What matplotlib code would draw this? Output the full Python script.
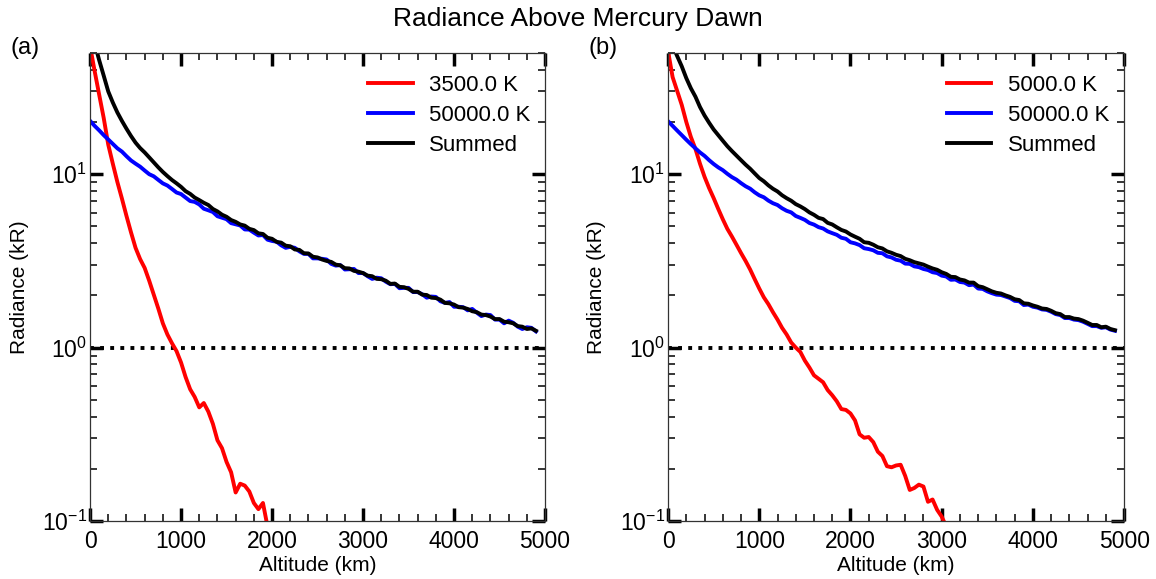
import numpy as np
import matplotlib
matplotlib.use("Agg")
import matplotlib.pyplot as plt
from matplotlib.ticker import LogLocator, MultipleLocator, NullFormatter

plt.rcParams['font.family'] = ['Liberation Sans', 'DejaVu Sans']
plt.rcParams['mathtext.fontset'] = 'custom'
plt.rcParams['mathtext.rm'] = 'Liberation Sans'
plt.rcParams['mathtext.it'] = 'Liberation Sans'
plt.rcParams['mathtext.bf'] = 'Liberation Sans'

# ---------------- data ----------------
title = "Radiance Above Mercury Dawn"
alt_long = np.arange(0, 4901, 50)          # km, blue / summed sampling
alt_red_a = np.arange(0, 1951, 50)
alt_red_b = np.arange(0, 3051, 50)

red_a = [55.0, 39.4, 28.8, 21.1, 14.8, 11.5, 9.02, 7.24, 5.75, 4.62,
         3.76, 3.24, 2.88, 2.43, 2.02, 1.68, 1.38, 1.19, 1.06, 0.955,
         0.82, 0.676, 0.575, 0.519, 0.452, 0.479, 0.427, 0.363, 0.292, 0.263,
         0.219, 0.191, 0.146, 0.164, 0.160, 0.148, 0.127, 0.117, 0.127, 0.093]

blue_a = [20.3, 19.0, 17.9, 16.8, 15.85, 14.95, 14.1, 13.5, 12.7, 12.0,
          11.5, 11.05, 10.5, 10.0, 9.72, 9.27, 8.85, 8.60, 8.22, 7.84,
          7.68, 7.33, 7.00, 6.92, 6.69, 6.32, 6.19, 6.05, 5.72, 5.61,
          5.50, 5.22, 5.14, 5.06, 4.80, 4.79, 4.60, 4.43, 4.46, 4.19,
          4.12, 4.08, 3.89, 3.76, 3.81, 3.76, 3.59, 3.47, 3.47, 3.27,
          3.27, 3.25, 3.22, 3.04, 2.97, 2.99, 2.82, 2.83, 2.84, 2.69,
          2.69, 2.58, 2.49, 2.53, 2.51, 2.40, 2.32, 2.33, 2.20, 2.21,
          2.21, 2.09, 2.09, 2.03, 1.94, 1.97, 1.96, 1.85, 1.81, 1.83,
          1.72, 1.72, 1.71, 1.64, 1.67, 1.59, 1.52, 1.55, 1.54, 1.45,
          1.45, 1.38, 1.43, 1.39, 1.32, 1.28, 1.31, 1.30, 1.24]

sum_a = [75.0, 57.0, 45.5, 37.0, 30.0, 25.9, 22.7, 20.3, 18.3, 16.6,
         15.2, 14.15, 13.35, 12.5, 11.7, 10.95, 10.3, 9.75, 9.26, 8.86,
         8.45, 7.98, 7.70, 7.33, 7.09, 6.84, 6.64, 6.30, 6.10, 5.84,
         5.68, 5.44, 5.31, 5.13, 5.05, 4.84, 4.76, 4.56, 4.52, 4.30,
         4.24, 4.07, 4.03, 3.87, 3.84, 3.68, 3.66, 3.50, 3.49, 3.34,
         3.31, 3.22, 3.16, 3.12, 3.01, 2.98, 2.87, 2.86, 2.77, 2.74,
         2.69, 2.60, 2.58, 2.49, 2.48, 2.43, 2.33, 2.34, 2.24, 2.23,
         2.18, 2.10, 2.10, 2.02, 2.01, 1.94, 1.93, 1.89, 1.81, 1.80,
         1.77, 1.71, 1.70, 1.67, 1.62, 1.60, 1.55, 1.54, 1.51, 1.46,
         1.46, 1.41, 1.40, 1.38, 1.33, 1.32, 1.28, 1.29, 1.25]

red_b = [51.3, 36.3, 30.2, 25.1, 20.0, 16.4, 14.0, 11.5, 9.66, 8.32,
         7.28, 6.31, 5.50, 4.84, 4.37, 3.92, 3.51, 3.16, 2.82, 2.48,
         2.19, 1.95, 1.78, 1.60, 1.45, 1.30, 1.19, 1.07, 1.00, 0.944,
         0.841, 0.767, 0.692, 0.661, 0.631, 0.569, 0.531, 0.490, 0.442, 0.437,
         0.417, 0.380, 0.316, 0.302, 0.305, 0.285, 0.251, 0.237, 0.207, 0.204,
         0.209, 0.211, 0.182, 0.151, 0.155, 0.162, 0.158, 0.129, 0.133, 0.116,
         0.106, 0.093]

blue_b = [20.2, 19.0, 17.85, 16.8, 15.8, 14.9, 14.1, 13.35, 12.75, 12.05,
          11.45, 10.95, 10.55, 10.05, 9.62, 9.30, 8.88, 8.52, 8.25, 7.86,
          7.55, 7.36, 7.04, 6.80, 6.64, 6.36, 6.15, 6.02, 5.74, 5.60,
          5.45, 5.23, 5.12, 4.95, 4.86, 4.68, 4.57, 4.47, 4.30, 4.24,
          4.05, 3.99, 3.90, 3.74, 3.70, 3.64, 3.52, 3.50, 3.36, 3.31,
          3.21, 3.17, 3.05, 3.04, 2.94, 2.91, 2.84, 2.80, 2.72, 2.69,
          2.60, 2.57, 2.46, 2.47, 2.39, 2.37, 2.29, 2.31, 2.19, 2.18,
          2.11, 2.06, 2.02, 2.01, 1.97, 1.93, 1.86, 1.85, 1.76, 1.77,
          1.72, 1.70, 1.66, 1.65, 1.61, 1.56, 1.54, 1.48, 1.48, 1.45,
          1.44, 1.41, 1.37, 1.33, 1.33, 1.30, 1.31, 1.27, 1.25]

sum_b = [71.5, 55.3, 48.0, 41.9, 35.8, 31.3, 28.0, 24.4, 21.8, 19.8,
         18.1, 16.8, 15.6, 14.5, 13.6, 12.8, 12.05, 11.35, 10.75, 10.1,
         9.50, 9.10, 8.62, 8.24, 7.95, 7.56, 7.27, 7.03, 6.72, 6.52,
         6.29, 6.02, 5.83, 5.60, 5.51, 5.24, 5.13, 4.94, 4.77, 4.67,
         4.49, 4.36, 4.24, 4.05, 4.02, 3.92, 3.79, 3.73, 3.59, 3.52,
         3.43, 3.37, 3.25, 3.19, 3.11, 3.06, 3.01, 2.93, 2.86, 2.81,
         2.72, 2.66, 2.56, 2.55, 2.47, 2.44, 2.37, 2.37, 2.26, 2.23,
         2.17, 2.11, 2.07, 2.05, 2.00, 1.96, 1.90, 1.88, 1.80, 1.79,
         1.75, 1.72, 1.68, 1.67, 1.63, 1.58, 1.56, 1.50, 1.50, 1.47,
         1.46, 1.43, 1.39, 1.35, 1.35, 1.31, 1.32, 1.28, 1.26]

labels_a = ["3500.0 K", "50000.0 K", "Summed"]
labels_b = ["5000.0 K", "50000.0 K", "Summed"]
threshold = 1.0

# ---------------- plotting ----------------
fig = plt.figure(figsize=(11.56, 5.79), dpi=100)
ax_a = fig.add_axes([0.0779, 0.1002, 0.3936, 0.8083])
ax_b = fig.add_axes([0.5779, 0.1002, 0.3945, 0.8083])

LW = 2.8

def panel(ax, ralt, rvals, bvals, svals, labels):
    l1, = ax.plot(ralt, rvals, color='#ff0000', lw=LW, label=labels[0],
                  solid_joinstyle='round')
    l2, = ax.plot(alt_long, bvals, color='#0000ff', lw=LW, label=labels[1],
                  solid_joinstyle='round')
    l3, = ax.plot(alt_long, svals, color='black', lw=LW, label=labels[2],
                  solid_joinstyle='round')
    ax.plot([0, 5000], [threshold, threshold], color='black', lw=2.8,
            linestyle=(0, (1, 1.6)), dash_capstyle='butt', zorder=1)
    ax.set_yscale('log')
    ax.set_xlim(0, 5000)
    ax.set_ylim(0.1, 50)
    ax.xaxis.set_major_locator(MultipleLocator(1000))
    ax.xaxis.set_minor_locator(MultipleLocator(200))
    ax.yaxis.set_major_locator(LogLocator(base=10, numticks=10))
    ax.yaxis.set_minor_locator(LogLocator(base=10, subs=np.arange(2, 10), numticks=20))
    ax.yaxis.set_minor_formatter(NullFormatter())
    ax.tick_params(which='both', direction='in', top=True, right=True,
                   colors='black', labelsize=16.5)
    ax.tick_params(which='major', length=9.5, width=2.5)
    ax.tick_params(which='minor', length=5, width=1.1)
    ax.tick_params(axis='x', which='major', pad=6.5)
    ax.tick_params(axis='y', which='major', pad=2)
    for s in ax.spines.values():
        s.set_linewidth(0.9)
        s.set_color('#333333')
    ax.set_xlabel("Altitude (km)", fontsize=15)
    ax.set_ylabel("Radiance (kR)", fontsize=15)
    ax.xaxis.set_label_coords(0.5, -0.074)
    ax.yaxis.set_label_coords(-0.135, 0.5)
    ax.legend(handles=[l1, l2, l3], loc='upper left', bbox_to_anchor=(0.611, 0.953),
              frameon=False, fontsize=16, handlelength=2.0, handletextpad=0.75,
              labelspacing=0.4, borderpad=0, borderaxespad=0)

panel(ax_a, alt_red_a, red_a, blue_a, sum_a, labels_a)
panel(ax_b, alt_red_b, red_b, blue_b, sum_b, labels_b)

fig.text(0.0216, 0.917, "(a)", fontsize=17, ha='center', va='center')
fig.text(0.5216, 0.917, "(b)", fontsize=17, ha='center', va='center')
fig.text(0.5, 0.967, title, fontsize=19, ha='center', va='center')

fig.savefig("out.png", dpi=100)
